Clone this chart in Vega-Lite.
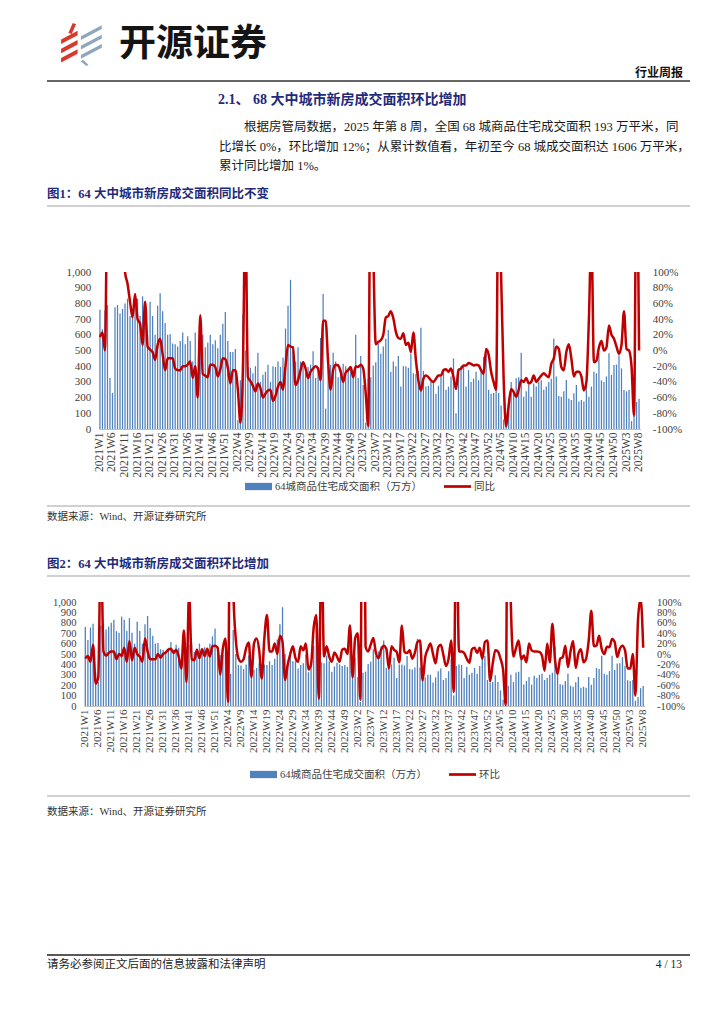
{
  "$schema": "https://vega.github.io/schema/vega-lite/v6.json",
  "padding": 0,
  "spacing": 0,
  "bounds": "flush",
  "background": "white",
  "config": {"view": {"stroke": null}, "axis": {"grid": false}},
  "resolve": {"scale": {"x": "independent", "y": "independent", "color": "independent"}, "legend": {"color": "independent"}, "axis": {"x": "independent", "y": "independent"}},
  "datasets": {
    "weeks": [
      {"week":"2021W1","area":760,"yoy":17,"wow":-9},{"week":"2021W2","area":635,"yoy":23,"wow":-4},{"week":"2021W3","area":755,"yoy":0,"wow":-15},{"week":"2021W4","area":790,"yoy":250,"wow":18},{"week":"2021W5","area":325,"yoy":400,"wow":-57},{"week":"2021W6","area":230,"yoy":700,"wow":-45},{"week":"2021W7","area":775,"yoy":500,"wow":230},{"week":"2021W8","area":790,"yoy":350,"wow":5},{"week":"2021W9","area":735,"yoy":250,"wow":-3},{"week":"2021W10","area":765,"yoy":160,"wow":2},
      {"week":"2021W11","area":800,"yoy":100,"wow":5},{"week":"2021W12","area":830,"yoy":85,"wow":5},{"week":"2021W13","area":720,"yoy":62,"wow":-10},{"week":"2021W14","area":705,"yoy":42,"wow":0},{"week":"2021W15","area":860,"yoy":72,"wow":-4},{"week":"2021W16","area":830,"yoy":40,"wow":12},{"week":"2021W17","area":720,"yoy":34,"wow":-15},{"week":"2021W18","area":845,"yoy":7,"wow":25},{"week":"2021W19","area":705,"yoy":62,"wow":-12},{"week":"2021W20","area":600,"yoy":5,"wow":12},
      {"week":"2021W21","area":810,"yoy":1,"wow":0},{"week":"2021W22","area":720,"yoy":-2,"wow":-5},{"week":"2021W23","area":600,"yoy":-12,"wow":-15},{"week":"2021W24","area":785,"yoy":7,"wow":30},{"week":"2021W25","area":865,"yoy":15,"wow":5},{"week":"2021W26","area":750,"yoy":-5,"wow":-10},{"week":"2021W27","area":675,"yoy":-25,"wow":-10},{"week":"2021W28","area":600,"yoy":-10,"wow":-10},{"week":"2021W29","area":605,"yoy":-10,"wow":0},{"week":"2021W30","area":545,"yoy":-10,"wow":-7},
      {"week":"2021W31","area":540,"yoy":-23,"wow":0},{"week":"2021W32","area":525,"yoy":-25,"wow":3},{"week":"2021W33","area":560,"yoy":-25,"wow":8},{"week":"2021W34","area":615,"yoy":-20,"wow":10},{"week":"2021W35","area":540,"yoy":-20,"wow":2},{"week":"2021W36","area":590,"yoy":-18,"wow":8},{"week":"2021W37","area":560,"yoy":-14,"wow":-5},{"week":"2021W38","area":430,"yoy":-35,"wow":-28},{"week":"2021W39","area":615,"yoy":-20,"wow":45},{"week":"2021W40","area":275,"yoy":-60,"wow":-54},
      {"week":"2021W41","area":590,"yoy":45,"wow":118},{"week":"2021W42","area":600,"yoy":-30,"wow":-10},{"week":"2021W43","area":520,"yoy":-32,"wow":-12},{"week":"2021W44","area":550,"yoy":-34,"wow":8},{"week":"2021W45","area":600,"yoy":-18,"wow":-8},{"week":"2021W46","area":540,"yoy":-18,"wow":9},{"week":"2021W47","area":565,"yoy":-21,"wow":-4},{"week":"2021W48","area":515,"yoy":-33,"wow":10},{"week":"2021W49","area":600,"yoy":-24,"wow":-5},{"week":"2021W50","area":670,"yoy":-10,"wow":15},
      {"week":"2021W51","area":745,"yoy":-11,"wow":16},{"week":"2021W52","area":560,"yoy":-22,"wow":12},
      {"week":"2022W1","area":490,"yoy":-42,"wow":-40},{"week":"2022W2","area":490,"yoy":-25,"wow":10},{"week":"2022W3","area":510,"yoy":-25,"wow":30},{"week":"2022W4","area":55,"yoy":-50,"wow":-92},{"week":"2022W5","area":310,"yoy":-92,"wow":450},{"week":"2022W6","area":730,"yoy":-25,"wow":130},{"week":"2022W7","area":500,"yoy":180,"wow":28},{"week":"2022W8","area":395,"yoy":-34,"wow":-8},
      {"week":"2022W9","area":390,"yoy":-39,"wow":-15},{"week":"2022W10","area":355,"yoy":-45,"wow":-10},{"week":"2022W11","area":400,"yoy":-52,"wow":12},{"week":"2022W12","area":485,"yoy":-42,"wow":22},{"week":"2022W13","area":300,"yoy":-48,"wow":-44},{"week":"2022W14","area":345,"yoy":-60,"wow":20},{"week":"2022W15","area":365,"yoy":-55,"wow":30},{"week":"2022W16","area":410,"yoy":-51,"wow":8},{"week":"2022W17","area":300,"yoy":-50,"wow":-47},{"week":"2022W18","area":400,"yoy":-64,"wow":30},
      {"week":"2022W19","area":395,"yoy":-58,"wow":75},{"week":"2022W20","area":430,"yoy":-46,"wow":5},{"week":"2022W21","area":395,"yoy":-40,"wow":5},{"week":"2022W22","area":455,"yoy":-50,"wow":20},{"week":"2022W23","area":640,"yoy":-20,"wow":0},{"week":"2022W24","area":785,"yoy":7,"wow":35},{"week":"2022W25","area":950,"yoy":5,"wow":23},{"week":"2022W26","area":500,"yoy":4,"wow":-50},{"week":"2022W27","area":430,"yoy":-44,"wow":-20},{"week":"2022W28","area":520,"yoy":-38,"wow":0},
      {"week":"2022W29","area":430,"yoy":-25,"wow":15},{"week":"2022W30","area":430,"yoy":-15,"wow":-8},{"week":"2022W31","area":360,"yoy":-23,"wow":-15},{"week":"2022W32","area":395,"yoy":-35,"wow":15},{"week":"2022W33","area":410,"yoy":-27,"wow":7},{"week":"2022W34","area":495,"yoy":-23,"wow":20},{"week":"2022W35","area":325,"yoy":-20,"wow":-30},{"week":"2022W36","area":395,"yoy":-23,"wow":-20},{"week":"2022W37","area":580,"yoy":-38,"wow":50},{"week":"2022W38","area":860,"yoy":38,"wow":75},
      {"week":"2022W39","area":130,"yoy":38,"wow":-86},{"week":"2022W40","area":420,"yoy":-15,"wow":220},{"week":"2022W41","area":410,"yoy":-50,"wow":-5},{"week":"2022W42","area":485,"yoy":-25,"wow":15},{"week":"2022W43","area":430,"yoy":-18,"wow":-5},{"week":"2022W44","area":330,"yoy":-19,"wow":-15},{"week":"2022W45","area":380,"yoy":-27,"wow":3},{"week":"2022W46","area":415,"yoy":-40,"wow":-5},{"week":"2022W47","area":400,"yoy":-28,"wow":-15},{"week":"2022W48","area":385,"yoy":-25,"wow":8},
      {"week":"2022W49","area":395,"yoy":-21,"wow":10},{"week":"2022W50","area":375,"yoy":-34,"wow":0},{"week":"2022W51","area":600,"yoy":-20,"wow":55},{"week":"2022W52","area":325,"yoy":-21,"wow":-45},
      {"week":"2023W1","area":465,"yoy":-18,"wow":30},{"week":"2023W2","area":280,"yoy":-23,"wow":40},{"week":"2023W3","area":40,"yoy":-55,"wow":-88},{"week":"2023W4","area":320,"yoy":-96,"wow":600},{"week":"2023W5","area":330,"yoy":300,"wow":14},{"week":"2023W6","area":405,"yoy":130,"wow":5},
      {"week":"2023W7","area":425,"yoy":8,"wow":18},{"week":"2023W8","area":545,"yoy":11,"wow":31},{"week":"2023W9","area":480,"yoy":13,"wow":2},{"week":"2023W10","area":525,"yoy":20,"wow":-8},{"week":"2023W11","area":575,"yoy":42,"wow":8},{"week":"2023W12","area":630,"yoy":44,"wow":16},{"week":"2023W13","area":365,"yoy":50,"wow":10},{"week":"2023W14","area":430,"yoy":41,"wow":-28},{"week":"2023W15","area":400,"yoy":24,"wow":15},{"week":"2023W16","area":465,"yoy":16,"wow":8},
      {"week":"2023W17","area":270,"yoy":15,"wow":4},{"week":"2023W18","area":400,"yoy":22,"wow":-16},{"week":"2023W19","area":400,"yoy":7,"wow":55},{"week":"2023W20","area":390,"yoy":10,"wow":4},{"week":"2023W21","area":480,"yoy":-2,"wow":2},{"week":"2023W22","area":355,"yoy":23,"wow":7},{"week":"2023W23","area":350,"yoy":-12,"wow":-9},{"week":"2023W24","area":370,"yoy":-38,"wow":2},{"week":"2023W25","area":645,"yoy":-51,"wow":23},{"week":"2023W26","area":370,"yoy":-36,"wow":26},
      {"week":"2023W27","area":270,"yoy":-32,"wow":-51},{"week":"2023W28","area":275,"yoy":-34,"wow":-6},{"week":"2023W29","area":300,"yoy":-38,"wow":9},{"week":"2023W30","area":300,"yoy":-40,"wow":20},{"week":"2023W31","area":225,"yoy":-36,"wow":0},{"week":"2023W32","area":275,"yoy":-32,"wow":-18},{"week":"2023W33","area":335,"yoy":-32,"wow":13},{"week":"2023W34","area":360,"yoy":-25,"wow":18},{"week":"2023W35","area":250,"yoy":-24,"wow":-2},{"week":"2023W36","area":270,"yoy":-27,"wow":-23},
      {"week":"2023W37","area":335,"yoy":-23,"wow":-9},{"week":"2023W38","area":450,"yoy":-34,"wow":26},{"week":"2023W39","area":100,"yoy":-49,"wow":-73},{"week":"2023W40","area":385,"yoy":-25,"wow":280},{"week":"2023W41","area":400,"yoy":-23,"wow":5},{"week":"2023W42","area":395,"yoy":-19,"wow":5},{"week":"2023W43","area":270,"yoy":-19,"wow":2},{"week":"2023W44","area":375,"yoy":-16,"wow":-9},{"week":"2023W45","area":300,"yoy":-17,"wow":-17},{"week":"2023W46","area":320,"yoy":-19,"wow":9},
      {"week":"2023W47","area":365,"yoy":-18,"wow":12},{"week":"2023W48","area":310,"yoy":-19,"wow":2},{"week":"2023W49","area":385,"yoy":-25,"wow":12},{"week":"2023W50","area":460,"yoy":-30,"wow":-9},{"week":"2023W51","area":480,"yoy":2,"wow":23},{"week":"2023W52","area":250,"yoy":-5,"wow":26},
      {"week":"2024W1","area":225,"yoy":-27,"wow":-52},{"week":"2024W2","area":230,"yoy":-40,"wow":-19},{"week":"2024W3","area":295,"yoy":-50,"wow":7},{"week":"2024W4","area":230,"yoy":250,"wow":5},
      {"week":"2024W5","area":150,"yoy":95,"wow":-9},{"week":"2024W6","area":60,"yoy":-36,"wow":-30},{"week":"2024W7","area":10,"yoy":-97,"wow":-98},{"week":"2024W8","area":195,"yoy":-70,"wow":500},{"week":"2024W9","area":300,"yoy":-49,"wow":95},{"week":"2024W10","area":230,"yoy":-53,"wow":-5},{"week":"2024W11","area":323,"yoy":-59,"wow":12},{"week":"2024W12","area":330,"yoy":-50,"wow":26},{"week":"2024W13","area":485,"yoy":-38,"wow":-10},{"week":"2024W14","area":206,"yoy":-40,"wow":-3},
      {"week":"2024W15","area":240,"yoy":-35,"wow":-16},{"week":"2024W16","area":280,"yoy":-42,"wow":20},{"week":"2024W17","area":206,"yoy":-40,"wow":7},{"week":"2024W18","area":290,"yoy":-32,"wow":5},{"week":"2024W19","area":270,"yoy":-40,"wow":5},{"week":"2024W20","area":300,"yoy":-36,"wow":4},{"week":"2024W21","area":310,"yoy":-32,"wow":-3},{"week":"2024W22","area":250,"yoy":-29,"wow":-32},{"week":"2024W23","area":270,"yoy":-32,"wow":20},{"week":"2024W24","area":300,"yoy":-34,"wow":-16},
      {"week":"2024W25","area":320,"yoy":-17,"wow":58},{"week":"2024W26","area":575,"yoy":-10,"wow":-10},{"week":"2024W27","area":335,"yoy":5,"wow":-38},{"week":"2024W28","area":210,"yoy":2,"wow":-9},{"week":"2024W29","area":205,"yoy":-21,"wow":-6},{"week":"2024W30","area":240,"yoy":-25,"wow":16},{"week":"2024W31","area":312,"yoy":-2,"wow":-25},{"week":"2024W32","area":195,"yoy":8,"wow":5},{"week":"2024W33","area":185,"yoy":-10,"wow":25},{"week":"2024W34","area":228,"yoy":-33,"wow":-27},
      {"week":"2024W35","area":280,"yoy":-27,"wow":0},{"week":"2024W36","area":175,"yoy":-27,"wow":9},{"week":"2024W37","area":185,"yoy":-33,"wow":-16},{"week":"2024W38","area":175,"yoy":-51,"wow":-9},{"week":"2024W39","area":280,"yoy":-40,"wow":26},{"week":"2024W40","area":205,"yoy":40,"wow":83},{"week":"2024W41","area":270,"yoy":150,"wow":15},{"week":"2024W42","area":365,"yoy":-15,"wow":16},{"week":"2024W43","area":355,"yoy":-13,"wow":35},{"week":"2024W44","area":482,"yoy":4,"wow":10},
      {"week":"2024W45","area":310,"yoy":12,"wow":0},{"week":"2024W46","area":300,"yoy":0,"wow":14},{"week":"2024W47","area":335,"yoy":4,"wow":13},{"week":"2024W48","area":482,"yoy":32,"wow":29},{"week":"2024W49","area":345,"yoy":20,"wow":23},{"week":"2024W50","area":408,"yoy":15,"wow":-6},{"week":"2024W51","area":410,"yoy":5,"wow":10},{"week":"2024W52","area":470,"yoy":-4,"wow":16},
      {"week":"2025W1","area":386,"yoy":7,"wow":7},{"week":"2025W2","area":248,"yoy":50,"wow":-28},{"week":"2025W3","area":240,"yoy":2,"wow":-28},{"week":"2025W4","area":250,"yoy":0,"wow":0},{"week":"2025W5","area":50,"yoy":-20,"wow":-80},{"week":"2025W6","area":83,"yoy":-83,"wow":66},{"week":"2025W7","area":172,"yoy":250,"wow":107},{"week":"2025W8","area":193,"yoy":0,"wow":12}
    ]
  },
  "vconcat": [
    {
      "width": 724, "height": 272,
      "data": {"values": [{}]},
      "layer": [
        {"mark": {"type": "point", "shape": "M-0.95,-0.2L-0.2,-0.6L-0.2,-0.4L-0.95,0.0Z M-0.95,0.22L-0.2,-0.18L-0.2,0.02L-0.95,0.42Z M-0.95,0.64L-0.2,0.24L-0.2,0.44L-0.95,0.84Z M-0.62,-0.5L-0.42,-0.95L-0.27,-0.9L-0.47,-0.45Z", "x": 82, "y": 44, "size": 1936, "filled": true, "color": "#d8392c", "opacity": 1, "strokeWidth": 0}, "encoding": {}},
        {"mark": {"type": "point", "shape": "M-0.05,-0.35L0.9,-0.85L0.9,-0.68L-0.05,-0.18Z M-0.05,0.08L0.9,-0.42L0.9,-0.25L-0.05,0.25Z M-0.05,0.5L0.9,0.0L0.9,0.17L-0.05,0.67Z M0.05,0.72L0.3,0.95L0.2,1.0L-0.05,0.8Z", "x": 82, "y": 44, "size": 1936, "filled": true, "color": "#8fa7bd", "opacity": 1, "strokeWidth": 0}, "encoding": {}},
        {"mark": {"type": "text", "text": "开源证券", "x": 119, "y": 45, "align": "left", "baseline": "middle", "font": "Noto Sans CJK SC", "fontSize": 37, "fontWeight": "bold", "color": "#141414"}},
        {"mark": {"type": "text", "text": "行业周报", "x": 683, "y": 73, "align": "right", "baseline": "middle", "font": "Noto Sans CJK SC", "fontSize": 12, "fontWeight": "bold", "color": "#111111"}},
        {"mark": {"type": "rule", "color": "#333333", "strokeWidth": 1.5}, "encoding": {"x": {"value": 47}, "x2": {"value": 690}, "y": {"value": 81}}},
        {"mark": {"type": "text", "text": "2.1、 68 大中城市新房成交面积环比增加", "x": 218, "y": 100, "align": "left", "baseline": "middle", "font": "Liberation Serif, Noto Sans CJK SC", "fontSize": 14, "fontWeight": "bold", "color": "#1f2a7a"}},
        {"mark": {"type": "text", "text": "根据房管局数据，2025 年第 8 周，全国 68 城商品住宅成交面积 193 万平米，同", "x": 244, "y": 127, "align": "left", "baseline": "middle", "font": "Liberation Serif, Noto Sans CJK SC", "fontSize": 12.5, "color": "#1a1a1a"}},
        {"mark": {"type": "text", "text": "比增长 0%，环比增加 12%；从累计数值看，年初至今 68 城成交面积达 1606 万平米，", "x": 219, "y": 147, "align": "left", "baseline": "middle", "font": "Liberation Serif, Noto Sans CJK SC", "fontSize": 12.5, "color": "#1a1a1a"}},
        {"mark": {"type": "text", "text": "累计同比增加 1%。", "x": 219, "y": 166, "align": "left", "baseline": "middle", "font": "Liberation Serif, Noto Sans CJK SC", "fontSize": 12.5, "color": "#1a1a1a"}},
        {"mark": {"type": "text", "text": "图1：64 大中城市新房成交面积同比不变", "x": 47, "y": 194, "align": "left", "baseline": "middle", "font": "Liberation Serif, Noto Sans CJK SC", "fontSize": 12.5, "fontWeight": "bold", "color": "#1f2a7a"}},
        {"mark": {"type": "rule", "color": "#8c8c8c", "strokeWidth": 0.8}, "encoding": {"x": {"value": 47}, "x2": {"value": 690}, "y": {"value": 206}}}
      ]
    },
    {
      "width": 724, "height": 157,
      "data": {"name": "weeks"},
      "encoding": {
        "x": {"field": "week", "type": "ordinal", "sort": null,
          "scale": {"range": [98.7, 640.3], "paddingInner": 0.5, "paddingOuter": 0.25},
          "axis": {"title": null, "values": ["2021W1","2021W6","2021W11","2021W16","2021W21","2021W26","2021W31","2021W36","2021W41","2021W46","2021W51","2022W4","2022W9","2022W14","2022W19","2022W24","2022W29","2022W34","2022W39","2022W44","2022W49","2023W2","2023W7","2023W12","2023W17","2023W22","2023W27","2023W32","2023W37","2023W42","2023W47","2023W52","2024W5","2024W10","2024W15","2024W20","2024W25","2024W30","2024W35","2024W40","2024W45","2024W50","2025W3","2025W8"],
            "labelAngle": -90, "labelFont": "Liberation Serif", "labelFontSize": 11.5, "labelColor": "#404040", "labelPadding": 3, "labelOverlap": false, "ticks": false, "domainColor": "#bfbfbf", "domainWidth": 1}
        }
      },
      "layer": [
        {"mark": {"type": "bar"},
          "encoding": {
            "y": {"field": "area", "type": "quantitative", "scale": {"domain": [0, 1000], "nice": false},
              "axis": {"orient": "left", "title": null, "values": [0,100,200,300,400,500,600,700,800,900,1000], "offset": -98.7, "labelPadding": 8, "domain": false, "ticks": false, "labelFont": "Liberation Serif", "labelFontSize": 11, "labelColor": "#404040", "labelOverlap": false}},
            "color": {"datum": "64城商品住宅成交面积（万方）", "type": "nominal",
              "scale": {"domain": ["64城商品住宅成交面积（万方）", "同比"], "range": ["#4F81BD", "#C00000"]},
              "legend": {"orient": "none", "legendX": 245, "legendY": 201, "direction": "horizontal", "title": null, "padding": 0, "labelFont": "Liberation Serif, Noto Sans CJK SC", "labelFontSize": 10.5, "labelColor": "#404040", "symbolSize": 729, "columnPadding": 22, "labelOffset": 3,
                "encode": {"symbols": {"update": {"shape": {"signal": "datum.value === '同比' ? 'M-1,-0.1L1,-0.1L1,0.1L-1,0.1Z' : 'M-1,-0.27L1,-0.27L1,0.27L-1,0.27Z'"}, "fill": {"signal": "datum.value === '同比' ? '#C00000' : '#4F81BD'"}, "stroke": {"value": "transparent"}, "strokeWidth": {"value": 0}, "opacity": {"value": 1}}}}}
            }
          }
        },
        {"mark": {"type": "line", "strokeWidth": 2.5, "interpolate": "monotone", "clip": true, "strokeJoin": "round"},
          "encoding": {
            "y": {"field": "yoy", "type": "quantitative", "scale": {"domain": [-100, 100], "nice": false},
              "axis": {"orient": "right", "title": null, "values": [-100,-80,-60,-40,-20,0,20,40,60,80,100], "labelExpr": "datum.value + '%'", "offset": -83.7, "labelPadding": 12, "domain": false, "ticks": false, "labelFont": "Liberation Serif", "labelFontSize": 11, "labelColor": "#404040", "labelOverlap": false}},
            "color": {"datum": "同比", "type": "nominal"}
          }
        }
      ],
      "resolve": {"scale": {"y": "independent"}}
    },
    {
      "width": 724, "height": 173,
      "data": {"values": [{}]},
      "layer": [
        {"mark": {"type": "rule", "color": "#8c8c8c", "strokeWidth": 0.8}, "encoding": {"x": {"value": 47}, "x2": {"value": 690}, "y": {"value": 77}}},
        {"mark": {"type": "text", "text": "数据来源：Wind、开源证券研究所", "x": 47, "y": 88, "align": "left", "baseline": "middle", "font": "Liberation Serif, Noto Sans CJK SC", "fontSize": 10.5, "color": "#333333"}},
        {"mark": {"type": "text", "text": "图2：64 大中城市新房成交面积环比增加", "x": 47, "y": 135, "align": "left", "baseline": "middle", "font": "Liberation Serif, Noto Sans CJK SC", "fontSize": 12.5, "fontWeight": "bold", "color": "#1f2a7a"}},
        {"mark": {"type": "rule", "color": "#8c8c8c", "strokeWidth": 0.8}, "encoding": {"x": {"value": 47}, "x2": {"value": 690}, "y": {"value": 147}}}
      ]
    },
    {
      "width": 724, "height": 104,
      "data": {"name": "weeks"},
      "encoding": {
        "x": {"field": "week", "type": "ordinal", "sort": null,
          "scale": {"range": [84, 644.5], "paddingInner": 0.5, "paddingOuter": 0.25},
          "axis": {"title": null, "values": ["2021W1","2021W6","2021W11","2021W16","2021W21","2021W26","2021W31","2021W36","2021W41","2021W46","2021W51","2022W4","2022W9","2022W14","2022W19","2022W24","2022W29","2022W34","2022W39","2022W44","2022W49","2023W2","2023W7","2023W12","2023W17","2023W22","2023W27","2023W32","2023W37","2023W42","2023W47","2023W52","2024W5","2024W10","2024W15","2024W20","2024W25","2024W30","2024W35","2024W40","2024W45","2024W50","2025W3","2025W8"],
            "labelAngle": -90, "labelFont": "Liberation Serif", "labelFontSize": 11, "labelColor": "#404040", "labelPadding": 3, "labelOverlap": false, "ticks": false, "domainColor": "#bfbfbf", "domainWidth": 1}
        }
      },
      "layer": [
        {"mark": {"type": "bar"},
          "encoding": {
            "y": {"field": "area", "type": "quantitative", "scale": {"domain": [0, 1000], "nice": false},
              "axis": {"orient": "left", "title": null, "values": [0,100,200,300,400,500,600,700,800,900,1000], "offset": -84, "labelPadding": 8, "domain": false, "ticks": false, "labelFont": "Liberation Serif", "labelFontSize": 10.5, "labelColor": "#404040", "labelOverlap": false}},
            "color": {"datum": "64城商品住宅成交面积（万方）", "type": "nominal",
              "scale": {"domain": ["64城商品住宅成交面积（万方）", "环比"], "range": ["#4F81BD", "#C00000"]},
              "legend": {"orient": "none", "legendX": 250, "legendY": 159, "direction": "horizontal", "title": null, "padding": 0, "labelFont": "Liberation Serif, Noto Sans CJK SC", "labelFontSize": 10.5, "labelColor": "#404040", "symbolSize": 729, "columnPadding": 22, "labelOffset": 3,
                "encode": {"symbols": {"update": {"shape": {"signal": "datum.value === '环比' ? 'M-1,-0.1L1,-0.1L1,0.1L-1,0.1Z' : 'M-1,-0.27L1,-0.27L1,0.27L-1,0.27Z'"}, "fill": {"signal": "datum.value === '环比' ? '#C00000' : '#4F81BD'"}, "stroke": {"value": "transparent"}, "strokeWidth": {"value": 0}, "opacity": {"value": 1}}}}}
            }
          }
        },
        {"mark": {"type": "line", "strokeWidth": 2.5, "interpolate": "monotone", "clip": true, "strokeJoin": "round"},
          "encoding": {
            "y": {"field": "wow", "type": "quantitative", "scale": {"domain": [-100, 100], "nice": false},
              "axis": {"orient": "right", "title": null, "values": [-100,-80,-60,-40,-20,0,20,40,60,80,100], "labelExpr": "datum.value + '%'", "offset": -79.5, "labelPadding": 12, "domain": false, "ticks": false, "labelFont": "Liberation Serif", "labelFontSize": 10.5, "labelColor": "#404040", "labelOverlap": false}},
            "color": {"datum": "环比", "type": "nominal"}
          }
        }
      ],
      "resolve": {"scale": {"y": "independent"}}
    },
    {
      "width": 724, "height": 318,
      "data": {"values": [{}]},
      "layer": [
        {"mark": {"type": "rule", "color": "#8c8c8c", "strokeWidth": 0.8}, "encoding": {"x": {"value": 47}, "x2": {"value": 690}, "y": {"value": 90}}},
        {"mark": {"type": "text", "text": "数据来源：Wind、开源证券研究所", "x": 47, "y": 106, "align": "left", "baseline": "middle", "font": "Liberation Serif, Noto Sans CJK SC", "fontSize": 10.5, "color": "#333333"}},
        {"mark": {"type": "rule", "color": "#595959", "strokeWidth": 2}, "encoding": {"x": {"value": 47}, "x2": {"value": 690}, "y": {"value": 249}}},
        {"mark": {"type": "text", "text": "请务必参阅正文后面的信息披露和法律声明", "x": 47, "y": 259, "align": "left", "baseline": "middle", "font": "Noto Sans CJK SC", "fontSize": 11.5, "color": "#222222"}},
        {"mark": {"type": "text", "text": "4 / 13", "x": 682, "y": 259, "align": "right", "baseline": "middle", "font": "Liberation Serif", "fontSize": 11.5, "color": "#222222"}}
      ]
    }
  ]
}
